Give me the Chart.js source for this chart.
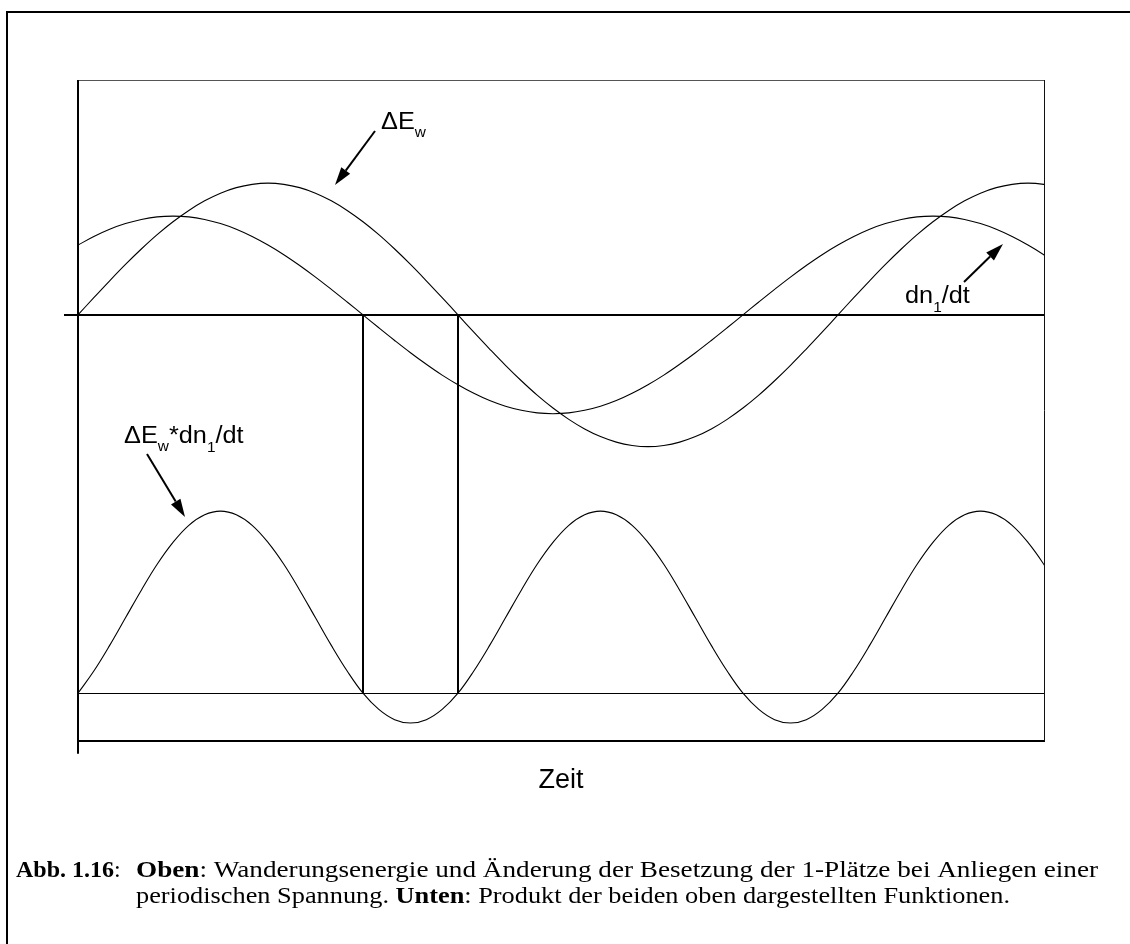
<!DOCTYPE html>
<html lang="de">
<head>
<meta charset="utf-8">
<title>Abb. 1.16</title>
<script src="https://cdn.jsdelivr.net/npm/chart.js@4.4.1/dist/chart.umd.min.js"></script>
<style>
  html, body { margin: 0; padding: 0; background: #fff; }
  canvas { display: block; }
</style>
</head>
<body>
<canvas id="fig" width="1130" height="944"></canvas>
<script>
// Zeitachse in Grad der Periode von ΔE_w (Abtastung alle 7,5°)
const zeit = [0, 7.5, 15, 22.5, 30, 37.5, 45, 52.5, 60, 67.5, 75, 82.5, 90, 97.5, 105, 112.5,
              120, 127.5, 135, 142.5, 150, 157.5, 165, 172.5, 180, 187.5, 195, 202.5, 210, 217.5, 225, 232.5,
              240, 247.5, 255, 262.5, 270, 277.5, 285, 292.5, 300, 307.5, 315, 322.5, 330, 337.5, 345, 352.5,
              360, 367.5, 375, 382.5, 390, 397.5, 405, 412.5, 420, 427.5, 435, 442.5, 450, 457.5, 465];

// Oben: Wanderungsenergie
const deltaEw = [0, 0.131, 0.259, 0.383, 0.5, 0.609, 0.707, 0.793, 0.866, 0.924, 0.966, 0.991, 1,
                 0.991, 0.966, 0.924, 0.866, 0.793, 0.707, 0.609, 0.5, 0.383, 0.259, 0.131, 0,
                 -0.131, -0.259, -0.383, -0.5, -0.609, -0.707, -0.793, -0.866, -0.924, -0.966, -0.991, -1,
                 -0.991, -0.966, -0.924, -0.866, -0.793, -0.707, -0.609, -0.5, -0.383, -0.259, -0.131, 0,
                 0.131, 0.259, 0.383, 0.5, 0.609, 0.707, 0.793, 0.866, 0.924, 0.966, 0.991, 1,
                 0.991, 0.966];

// Oben: Änderung der Besetzung der 1-Plätze
const dn1dt = [0.530, 0.595, 0.650, 0.693, 0.724, 0.744, 0.750, 0.744, 0.724, 0.693, 0.650, 0.595, 0.530,
               0.457, 0.375, 0.287, 0.194, 0.098, 0,
               -0.098, -0.194, -0.287, -0.375, -0.457, -0.530, -0.595, -0.650, -0.693, -0.724, -0.744, -0.750,
               -0.744, -0.724, -0.693, -0.650, -0.595, -0.530, -0.457, -0.375, -0.287, -0.194, -0.098, 0,
               0.098, 0.194, 0.287, 0.375, 0.457, 0.530, 0.595, 0.650, 0.693, 0.724, 0.744, 0.750,
               0.744, 0.724, 0.693, 0.650, 0.595, 0.530, 0.457, 0.375];

// Unten: Produkt ΔE_w * dn1/dt
const produkt = [0, 0.078, 0.168, 0.265, 0.362, 0.453, 0.530, 0.590, 0.627, 0.640, 0.627, 0.590, 0.530, 0.453, 0.362, 0.265,
                 0.168, 0.078, 0, -0.057, -0.093, -0.105, -0.093, -0.057,
                 0, 0.078, 0.168, 0.265, 0.362, 0.453, 0.530, 0.590, 0.627, 0.640, 0.627, 0.590, 0.530, 0.453, 0.362, 0.265,
                 0.168, 0.078, 0, -0.057, -0.093, -0.105, -0.093, -0.057,
                 0, 0.078, 0.168, 0.265, 0.362, 0.453, 0.530, 0.590, 0.627, 0.640, 0.627, 0.590, 0.530, 0.453, 0.362];

// Nulldurchgänge von dn1/dt und ΔE_w (senkrechte Markierungen)
const nulldurchgaenge = [135, 180];

const zeitEnde = 457.6;

const SANS = "'Liberation Sans', Arial, Helvetica, sans-serif";
const SERIF = "'Liberation Serif', 'Times New Roman', serif";

const pts = (xs, ys) => xs.map((x, i) => ({ x, y: ys[i] }));

const kurve = {
  borderColor: '#000',
  borderWidth: 1.1,
  pointRadius: 0,
  fill: false,
  tension: 0.4
};

function pfeil(ctx, x1, y1, x2, y2) {
  const ang = Math.atan2(y2 - y1, x2 - x1);
  const len = 18, half = 5.5;
  const bx = x2 - len * Math.cos(ang), by = y2 - len * Math.sin(ang);
  ctx.beginPath();
  ctx.moveTo(x1, y1);
  ctx.lineTo(bx, by);
  ctx.lineWidth = 2;
  ctx.strokeStyle = '#000';
  ctx.stroke();
  ctx.beginPath();
  ctx.moveTo(x2, y2);
  ctx.lineTo(bx + half * Math.sin(ang), by - half * Math.cos(ang));
  ctx.lineTo(bx - half * Math.sin(ang), by + half * Math.cos(ang));
  ctx.closePath();
  ctx.fillStyle = '#000';
  ctx.fill();
}

function textTeile(ctx, x, y, teile, sx) {
  ctx.save();
  ctx.translate(x, y);
  ctx.scale(sx, 1);
  ctx.fillStyle = '#000';
  ctx.textBaseline = 'alphabetic';
  ctx.textAlign = 'left';
  let cx = 0;
  for (const t of teile) {
    ctx.font = t.font;
    ctx.fillText(t.text, cx, t.dy || 0);
    cx += ctx.measureText(t.text).width;
  }
  ctx.restore();
}

function breite(ctx, teile) {
  let w = 0;
  for (const t of teile) { ctx.font = t.font; w += ctx.measureText(t.text).width; }
  return w;
}

const gross = '23px ' + SANS;
const klein = '14px ' + SANS;

const abbildung = {
  id: 'abbildung',
  beforeDraw(chart) {
    const ctx = chart.ctx;
    ctx.save();
    ctx.fillStyle = '#fff';
    ctx.fillRect(0, 0, chart.width, chart.height);
    ctx.restore();
  },
  afterDraw(chart) {
    const { ctx, chartArea: a, scales } = chart;
    const y0 = Math.round(scales.y.getPixelForValue(0));
    const y2 = Math.round(scales.y2.getPixelForValue(0));
    ctx.save();
    ctx.lineCap = 'butt';

    // Rahmen der Abbildung
    ctx.strokeStyle = '#000';
    ctx.lineWidth = 2;
    ctx.beginPath();
    ctx.moveTo(7, 944);
    ctx.lineTo(7, 12);
    ctx.lineTo(1130, 12);
    ctx.stroke();

    // Diagrammkasten
    ctx.lineWidth = 1;
    ctx.strokeStyle = '#555';
    ctx.beginPath();
    ctx.moveTo(a.left, a.top + 0.5);
    ctx.lineTo(a.right, a.top + 0.5);
    ctx.stroke();
    ctx.strokeStyle = '#111';
    ctx.beginPath();
    ctx.moveTo(a.right + 0.5, a.top);
    ctx.lineTo(a.right + 0.5, a.bottom);
    ctx.stroke();

    // senkrechte Achse
    ctx.strokeStyle = '#000';
    ctx.lineWidth = 2;
    ctx.beginPath();
    ctx.moveTo(a.left, a.top);
    ctx.lineTo(a.left, a.bottom + 13);
    ctx.stroke();

    // Nulllinie oben
    ctx.beginPath();
    ctx.moveTo(a.left - 14, y0);
    ctx.lineTo(a.right, y0);
    ctx.stroke();

    // Grundlinie unten
    ctx.lineWidth = 1;
    ctx.beginPath();
    ctx.moveTo(a.left, y2 + 0.5);
    ctx.lineTo(a.right, y2 + 0.5);
    ctx.stroke();

    // Markierungen an den Nulldurchgängen
    ctx.lineWidth = 2;
    for (const t of nulldurchgaenge) {
      const x = Math.round(scales.x.getPixelForValue(t));
      ctx.beginPath();
      ctx.moveTo(x, y0);
      ctx.lineTo(x, y2 + 1);
      ctx.stroke();
    }

    // Beschriftungen mit Pfeilen
    const sx = 1.1;
    textTeile(ctx, 381, 129, [
      { text: 'ΔE', font: gross },
      { text: 'w', font: klein, dy: 8 }
    ], sx);
    pfeil(ctx, 375, 131, 335, 185);

    textTeile(ctx, 905, 303, [
      { text: 'dn', font: gross },
      { text: '1', font: klein, dy: 9 },
      { text: '/dt', font: gross }
    ], sx);
    pfeil(ctx, 964, 282, 1003, 244);

    textTeile(ctx, 124, 443, [
      { text: 'ΔE', font: gross },
      { text: 'w', font: klein, dy: 8 },
      { text: '*dn', font: gross },
      { text: '1', font: klein, dy: 9 },
      { text: '/dt', font: gross }
    ], sx);
    pfeil(ctx, 147, 454, 185, 517);

    // Bildunterschrift
    const fB = 'bold 24px ' + SERIF;
    const fR = '24px ' + SERIF;
    const z1 = [
      { text: 'Oben', font: fB },
      { text: ': Wanderungsenergie und Änderung der Besetzung der 1-Plätze bei Anliegen einer', font: fR }
    ];
    const z2 = [
      { text: 'periodischen Spannung. ', font: fR },
      { text: 'Unten', font: fB },
      { text: ': Produkt der beiden oben dargestellten Funktionen.', font: fR }
    ];
    textTeile(ctx, 16, 877, [
      { text: 'Abb. 1.16', font: fB },
      { text: ':', font: fR }
    ], 1.0);
    textTeile(ctx, 136, 877, z1, (1098 - 136) / breite(ctx, z1));
    textTeile(ctx, 136, 903, z2, (1010 - 136) / breite(ctx, z2));

    ctx.restore();
  }
};

new Chart(document.getElementById('fig'), {
  type: 'line',
  data: {
    datasets: [
      Object.assign({ label: 'ΔE_w', data: pts(zeit, deltaEw), yAxisID: 'y' }, kurve),
      Object.assign({ label: 'dn1/dt', data: pts(zeit, dn1dt), yAxisID: 'y' }, kurve),
      Object.assign({ label: 'ΔE_w*dn1/dt', data: pts(zeit, produkt), yAxisID: 'y2' }, kurve)
    ]
  },
  options: {
    responsive: false,
    devicePixelRatio: 1,
    animation: false,
    events: [],
    layout: { padding: { left: 78, top: 80, right: 86, bottom: 146.8 } },
    plugins: { legend: { display: false }, tooltip: { enabled: false } },
    scales: {
      x: {
        type: 'linear',
        min: 0,
        max: zeitEnde,
        grid: { display: false, drawTicks: false },
        ticks: { display: false },
        border: { display: true, color: '#000', width: 2 },
        title: {
          display: true,
          text: 'Zeit',
          color: '#000',
          font: { family: SANS, size: 27, lineHeight: 1.2 },
          padding: { top: 24, bottom: 0 }
        }
      },
      y: { display: false, min: -3.233, max: 1.783 },
      y2: { display: false, min: -0.1674, max: 2.1554 }
    }
  },
  plugins: [abbildung]
});
</script>
</body>
</html>
